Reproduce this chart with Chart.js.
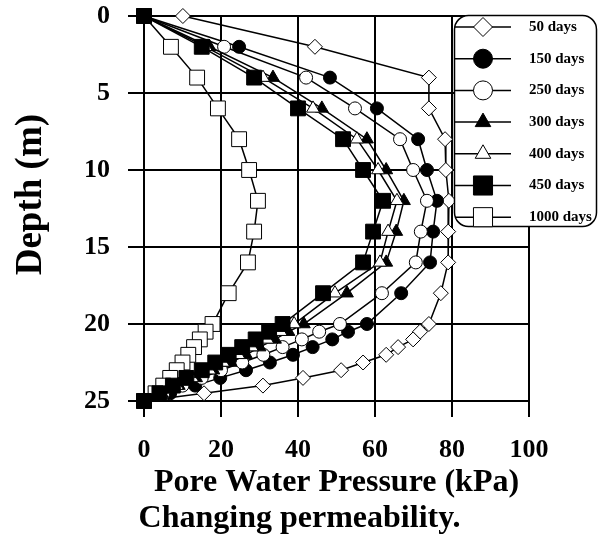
<!DOCTYPE html>
<html>
<head>
<meta charset="utf-8">
<script src="https://cdn.jsdelivr.net/npm/chart.js"></script>
<style>
  html, body { margin: 0; padding: 0; background: #fff; }
  #wrap { width: 599px; height: 543px; }
</style>
</head>
<body>
<div id="wrap"><canvas id="grafico" width="599" height="543"></canvas></div>
<script>
// depths (m) shared by every series
const depths = [0, 2, 4, 6, 8, 10, 12, 14, 16, 18, 20, 20.5, 21, 21.5, 22, 22.5, 23, 23.5, 24, 24.5, 25];

// pore water pressure (kPa) per elapsed time
const days50   = [10.1, 44.4, 74, 74, 78.2, 78.4, 79.2, 79, 79, 77.1, 74, 71.7, 69.9, 66, 62.9, 56.9, 51.2, 41.3, 30.9, 15.6, 0];
const days150  = [0, 24.7, 48.3, 60.5, 71.2, 73.5, 76.1, 75.1, 74.3, 66.8, 57.9, 53, 48.9, 43.8, 38.7, 32.7, 26.5, 19.8, 13.3, 6.8, 0];
const days250  = [0, 20.8, 42.1, 54.8, 66.5, 69.9, 73.5, 71.9, 70.6, 61.8, 50.9, 45.5, 41, 36, 31, 25.5, 20, 15, 10, 5, 0];
const days300  = [0, 17, 33.5, 46.2, 57.9, 62.9, 67.5, 65.5, 62.9, 52.7, 41.5, 37.5, 34, 30, 26.5, 22.5, 18, 13.5, 9, 4.5, 0];
const days400  = [0, 16, 30.9, 43.9, 55.3, 60.8, 65.7, 63.4, 61.3, 49.6, 39, 35.5, 32, 28, 24.5, 20.5, 17, 12.5, 8.5, 4.5, 0];
const days450  = [0, 15, 28.6, 40, 51.7, 56.9, 62.1, 59.5, 56.9, 46.5, 36, 32.5, 29, 25.5, 22, 18.5, 15, 11, 7.5, 4, 0];
const days1000 = [0, 7, 13.8, 19.2, 24.7, 27.3, 29.6, 28.6, 27, 22, 17.8, 16, 14.5, 13, 11.5, 10, 8.5, 6.8, 5, 3, 0];

const seriesLabels = ['50 days', '150 days', '250 days', '300 days', '400 days', '450 days', '1000 days'];
const xTicks = [0, 20, 40, 60, 80, 100];
const yTicks = [0, 5, 10, 15, 20, 25];

const FONT = "'Liberation Serif', 'Times New Roman', serif";

const toPoints = vals => vals.map((v, i) => ({ x: v, y: depths[i] }));

// marker look for each series: style, radius, fill, legend radius, draw order
const markers = [
  { style: 'rectRot',  r: 7.5,  fill: '#fff', lr: 9.5,  order: 6 },
  { style: 'circle',   r: 6.5,  fill: '#000', lr: 9.5,  order: 5 },
  { style: 'circle',   r: 6.5,  fill: '#fff', lr: 9.5,  order: 4 },
  { style: 'triangle', r: 7.5,  fill: '#000', lr: 9,    order: 3 },
  { style: 'triangle', r: 7.5,  fill: '#fff', lr: 9,    order: 2 },
  { style: 'rect',     r: 10.5, fill: '#000', lr: 13.5, order: 0 },
  { style: 'rect',     r: 10.5, fill: '#fff', lr: 13.5, order: 1 }
];
const allSeries = [days50, days150, days250, days300, days400, days450, days1000];

const datasets = allSeries.map((vals, i) => ({
  label: seriesLabels[i],
  data: toPoints(vals),
  borderColor: '#000',
  borderWidth: 1.5,
  pointStyle: markers[i].style,
  pointRadius: markers[i].r,
  pointBackgroundColor: markers[i].fill,
  pointBorderColor: '#000',
  pointBorderWidth: 1,
  tension: 0,
  clip: false,
  order: markers[i].order
}));

// legenda desenhada a mao, caixa arredondada por cima do grafico
const legendBox = {
  id: 'legendBox',
  afterDraw(chart) {
    const ctx = chart.ctx;
    ctx.save();
    ctx.fillStyle = '#fff';
    ctx.strokeStyle = '#000';
    ctx.lineWidth = 1.5;
    ctx.beginPath();
    ctx.roundRect(454.5, 15.5, 142, 211, 14);
    ctx.fill();
    ctx.stroke();
    chart.data.datasets.forEach((ds, i) => {
      const y = 27 + i * 31.7;
      ctx.strokeStyle = '#000';
      ctx.lineWidth = 1.5;
      ctx.beginPath();
      ctx.moveTo(455, y);
      ctx.lineTo(511, y);
      ctx.stroke();
      ctx.fillStyle = ds.pointBackgroundColor;
      ctx.lineWidth = 1;
      Chart.helpers.drawPoint(ctx, { pointStyle: ds.pointStyle, radius: markers[i].lr, rotation: 0, borderWidth: 1 }, 483, y);
      ctx.fillStyle = '#000';
      ctx.font = 'bold 15px ' + FONT;
      ctx.textAlign = 'left';
      ctx.textBaseline = 'middle';
      ctx.fillText(ds.label, 529, y);
    });
    ctx.restore();
  }
};

new Chart(document.getElementById('grafico'), {
  type: 'line',
  data: { datasets: datasets },
  options: {
    responsive: false,
    animation: false,
    events: [],
    devicePixelRatio: 1,
    layout: { padding: { top: 16, right: 0, left: 0, bottom: 0 } },
    plugins: {
      legend: { display: false },
      tooltip: { enabled: false },
      title: {
        display: true,
        position: 'bottom',
        text: 'Changing permeability.',
        color: '#000',
        font: { family: FONT, size: 32, weight: 'bold', lineHeight: 1 },
        padding: { top: 0, bottom: 8 }
      }
    },
    scales: {
      x: {
        type: 'linear',
        position: 'bottom',
        min: 0,
        max: 100,
        afterBuildTicks: s => { s.ticks = xTicks.map(v => ({ value: v })); },
        afterFit: s => { s.height = 102; },
        ticks: {
          color: '#000',
          padding: 20,
          maxRotation: 0,
          autoSkip: false,
          font: { family: FONT, size: 26, weight: 'bold', lineHeight: 1 }
        },
        grid: { color: '#000', lineWidth: 2, tickLength: 16, drawTicks: true },
        border: { color: '#000', width: 2 },
        title: {
          display: true,
          text: 'Pore Water Pressure (kPa)',
          color: '#000',
          font: { family: FONT, size: 32, weight: 'bold', lineHeight: 1 },
          padding: { top: 0, bottom: 4 }
        }
      },
      y: {
        type: 'linear',
        reverse: true,
        min: 0,
        max: 25,
        afterBuildTicks: s => { s.ticks = yTicks.map(v => ({ value: v })); },
        afterFit: s => {
          s.width = 144;
          // no extra room above/below for the end labels
          s.paddingTop = 0;
          s.paddingBottom = 0;
        },
        ticks: {
          color: '#000',
          padding: 18,
          autoSkip: false,
          font: { family: FONT, size: 26, weight: 'bold', lineHeight: 1 }
        },
        grid: { color: '#000', lineWidth: 2, tickLength: 16, drawTicks: true },
        border: { color: '#000', width: 2 },
        title: {
          display: true,
          text: '   Depth (m)',
          color: '#000',
          font: { family: FONT, size: 37, weight: 'bold', lineHeight: 1 },
          padding: { top: 13, bottom: 0 }
        }
      },
      // empty strip on the right, leaves room for the legend
      gap: {
        type: 'linear',
        position: 'right',
        afterFit: s => { s.width = 70; },
        ticks: { display: false },
        grid: { display: false, drawTicks: false },
        border: { display: false }
      }
    }
  },
  plugins: [legendBox]
});
</script>
</body>
</html>
